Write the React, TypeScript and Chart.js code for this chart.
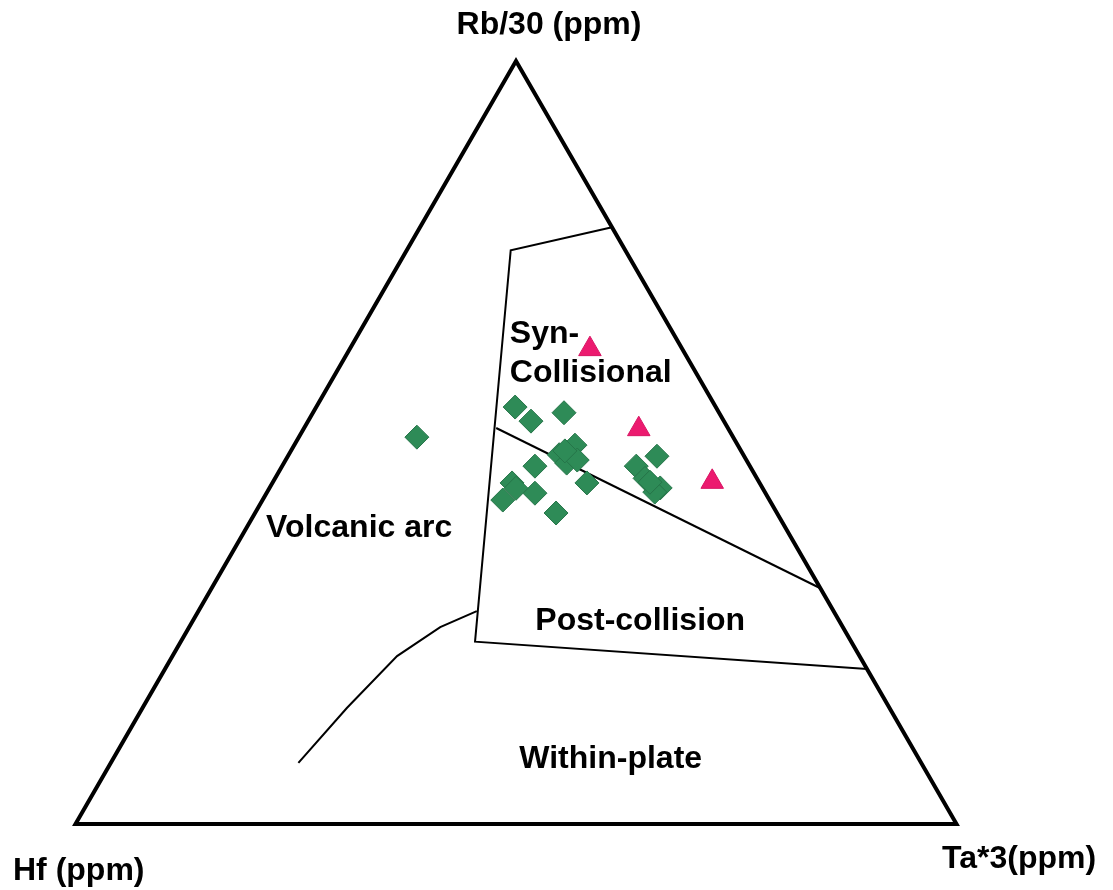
import React, { useEffect, useRef } from "react";
import { Chart, registerables } from "chart.js";

Chart.register(...registerables);

// Ternary compositions as [Hf, Rb/30, Ta*3] percentages.
type Tern = [number, number, number];

const apexLabels = ["Hf (ppm)", "Rb/30 (ppm)", "Ta*3(ppm)"];

// Granite samples (green diamonds)
const graniteSamples: Tern[] = [
  [22.8, 54.7, 22.6],
  [21.9, 52.8, 25.3],
  [17.6, 53.9, 28.5],
  [35.9, 50.7, 13.4],
  [18.5, 49.7, 31.9],
  [20.9, 48.4, 30.7],
  [20.6, 47.3, 32.1],
  [24.4, 46.9, 28.7],
  [19.6, 44.7, 35.7],
  [28.1, 44.7, 27.2],
  [30.3, 42.5, 27.3],
  [26.2, 43.4, 30.5],
  [25.1, 40.8, 34.2],
  [12.9, 46.9, 40.2],
  [9.9, 48.2, 41.9],
  [12.7, 45.3, 42.0],
  [11.6, 44.0, 44.3],
  [12.5, 43.5, 44.0],
  [28.0, 44.0, 28.0],
  [19.2, 47.7, 33.1],
  [12.4, 44.8, 42.8],
  [20.0, 48.9, 31.1],
];

// Second sample group (magenta triangles)
const otherSamples: Tern[] = [
  [10.5, 62.3, 27.3],
  [10.2, 51.8, 38.1],
  [5.3, 44.8, 49.8],
];

// Outer triangle, started mid-base so every corner is a join
const outline: Tern[] = [
  [50, 0, 50],
  [0, 0, 100],
  [0, 100, 0],
  [100, 0, 0],
  [50, 0, 50],
];

// Syn-collisional / post-collision field outline
const synColBoundary: Tern[] = [
  [0, 78.2, 21.8],
  [13.0, 75.2, 11.8],
  [42.7, 23.9, 33.4],
  [0, 20.3, 79.7],
];

// Divide between syn-collisional and post-collision fields
const synPostBoundary: Tern[] = [
  [26.3, 51.9, 21.8],
  [0, 30.9, 69.1],
];

// Volcanic arc / within-plate divide
const arcWithinBoundary: Tern[] = [
  [40.5, 27.9, 31.6],
  [45.7, 25.8, 28.5],
  [52.5, 22.0, 25.5],
  [61.6, 15.2, 23.2],
  [70.7, 8.0, 21.3],
];

// Field names and their anchor compositions
const fieldNames = ["Volcanic arc", "Post-collision", "Within-plate"];
const fieldAnchors: Tern[] = [
  [49.0, 37.6, 13.4],
  [23.2, 25.4, 51.4],
  [35.6, 7.3, 57.1],
];
const synColLines = ["Syn-", "Collisional"];
const synColAnchor: Tern = [19.2, 63.0, 17.8];

const H = Math.sqrt(3) / 2;

function toXY(t: Tern) {
  const s = t[0] + t[1] + t[2];
  const rb = t[1] / s;
  const ta = t[2] / s;
  return { x: ta + rb / 2, y: rb * H };
}

const FONT = 'bold 32px "Liberation Sans", Arial, sans-serif';

const labelPlugin = {
  id: "ternaryLabels",
  afterDatasetsDraw(chart: any) {
    const { ctx, scales } = chart;
    const px = (t: Tern) => {
      const p = toXY(t);
      return { x: scales.x.getPixelForValue(p.x), y: scales.y.getPixelForValue(p.y) };
    };
    ctx.save();
    ctx.fillStyle = "#000";
    ctx.font = FONT;
    ctx.textBaseline = "alphabetic";

    // Apex labels
    const hf = px([100, 0, 0]);
    const rb = px([0, 100, 0]);
    const ta = px([0, 0, 100]);
    ctx.textAlign = "center";
    ctx.fillText(apexLabels[1], rb.x + 33, rb.y - 27);
    ctx.textAlign = "left";
    ctx.fillText(apexLabels[0], hf.x - 62.5, hf.y + 56);
    ctx.fillText(apexLabels[2], ta.x - 14.5, ta.y + 44);

    // Field names
    ctx.textAlign = "center";
    fieldNames.forEach((name, i) => {
      const p = px(fieldAnchors[i]);
      ctx.fillText(name, p.x, p.y);
    });
    ctx.textAlign = "left";
    const s = px(synColAnchor);
    synColLines.forEach((line, i) => ctx.fillText(line, s.x, s.y + i * 39));
    ctx.restore();
  },
};

function lineSet(pts: Tern[], width: number) {
  return {
    type: "line" as const,
    data: pts.map(toXY),
    showLine: true,
    borderColor: "#000",
    borderWidth: width,
    borderJoinStyle: "miter" as const,
    pointRadius: 0,
    fill: false,
    tension: 0,
    clip: false as any,
  };
}

export default function App() {
  const ref = useRef<HTMLCanvasElement | null>(null);

  useEffect(() => {
    if (!ref.current) return;
    const chart = new Chart(ref.current, {
      type: "scatter",
      data: {
        datasets: [
          {
            label: "Sample group A",
            data: graniteSamples.map(toXY),
            pointStyle: "rectRot",
            pointRadius: 12,
            backgroundColor: "#2e8b57",
            borderColor: "#267549",
            borderWidth: 1,
            clip: false as any,
          },
          {
            label: "Sample group B",
            data: otherSamples.map(toXY),
            pointStyle: "triangle",
            pointRadius: 13,
            backgroundColor: "#ec1a6f",
            borderColor: "#d81563",
            borderWidth: 1,
            clip: false as any,
          },
          lineSet(synColBoundary, 2),
          lineSet(synPostBoundary, 2),
          lineSet(arcWithinBoundary, 2),
          lineSet(outline, 4),
        ] as any,
      },
      options: {
        animation: false,
        responsive: false,
        maintainAspectRatio: false,
        devicePixelRatio: 1,
        layout: { padding: { left: 75.5, right: 156.5, top: 61, bottom: 66 } },
        scales: {
          x: { type: "linear", min: 0, max: 1, display: false },
          y: { type: "linear", min: 0, max: H, display: false },
        },
        plugins: {
          legend: { display: false },
          tooltip: { enabled: false },
        },
        events: [],
      },
      plugins: [labelPlugin],
    });
    return () => chart.destroy();
  }, []);

  return (
    <div style={{ position: "absolute", left: 0, top: 0, width: 1113, height: 890, background: "#fff" }}>
      <canvas ref={ref} width={1113} height={890} style={{ width: 1113, height: 890, display: "block" }} />
    </div>
  );
}
